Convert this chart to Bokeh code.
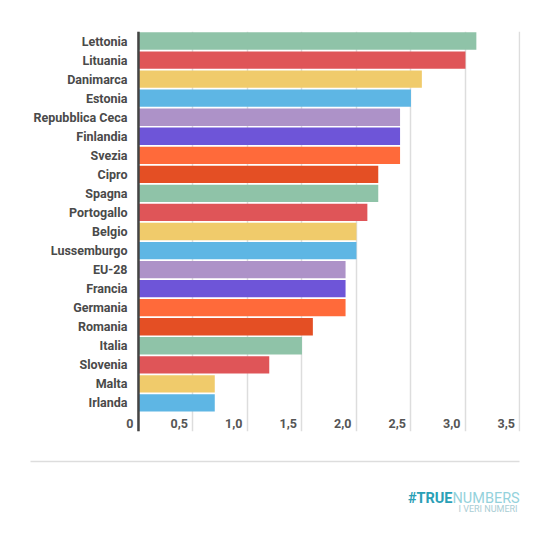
from bokeh.plotting import figure
from bokeh.models import FactorRange, Range1d, ColumnDataSource, Span
from bokeh.layouts import column
from bokeh.core.properties import value
from bokeh.embed import file_html
from bokeh.resources import INLINE

countries = ["Lettonia", "Lituania", "Danimarca", "Estonia", "Repubblica Ceca",
             "Finlandia", "Svezia", "Cipro", "Spagna", "Portogallo", "Belgio",
             "Lussemburgo", "EU-28", "Francia", "Germania", "Romania", "Italia",
             "Slovenia", "Malta", "Irlanda"]
values = [3.1, 3.0, 2.6, 2.5, 2.4, 2.4, 2.4, 2.2, 2.2, 2.1, 2.0, 2.0,
          1.9, 1.9, 1.9, 1.6, 1.5, 1.2, 0.7, 0.7]
palette = ["#8fc3a8", "#df5558", "#f0cb6b", "#5eb6e4",
           "#ad92c8", "#6e55d8", "#ff6a3a", "#e44f24"]
x_ticks = [0, 0.5, 1.0, 1.5, 2.0, 2.5, 3.0, 3.5]
x_tick_labels = ["0", "0,5", "1,0", "1,5", "2,0", "2,5", "3,0", "3,5"]

LABEL_ROW = " "
colors = [palette[i % len(palette)] for i in range(len(countries))]
factors = [LABEL_ROW] + list(reversed(countries))

src = ColumnDataSource(dict(country=countries, val=values, color=colors))

p = figure(width=542, height=441, y_range=FactorRange(factors=factors, range_padding=0),
           x_range=Range1d(-0.119, 3.505), x_axis_location=None,
           output_backend="svg", toolbar_location=None,
           min_border_left=125, min_border_right=22, min_border_top=31, min_border_bottom=10)
p.frame_align = False
p.outline_line_color = None
p.ygrid.grid_line_color = None
p.xgrid.ticker = x_ticks
p.xgrid.grid_line_color = "#dddddd"
p.xgrid.grid_line_width = 1.5

p.hbar(y="country", right="val", left=0, height=0.91, color="color",
       line_color=None, source=src)
p.add_layout(Span(location=0, dimension="height", line_color="#444444", line_width=2.5))

yax = p.yaxis[0]
yax.axis_line_color = None
yax.major_tick_line_color = None
yax.minor_tick_line_color = None
yax.major_tick_in = 0
yax.major_tick_out = 0
yax.major_label_standoff = -2
yax.major_label_text_font = "Roboto"
yax.major_label_text_font_style = "bold"
yax.major_label_text_font_size = "12.5px"
yax.major_label_text_color = "#4a4a4a"

tick_src = ColumnDataSource(dict(x=x_ticks, y=[LABEL_ROW] * len(x_ticks), t=x_tick_labels))
p.text(x="x", y="y", text="t", source=tick_src, text_align="right",
       text_baseline="middle", x_offset=-5, y_offset=1.5,
       text_font=value("Roboto"), text_font_style="bold",
       text_font_size="12.5px", text_color="#555555")

# footer: separator line and logo
f = figure(width=542, height=84, x_range=Range1d(0, 542), y_range=Range1d(0, 84),
           x_axis_location=None, y_axis_location=None,
           output_backend="svg", toolbar_location=None, min_border=0)
f.frame_align = False
f.outline_line_color = None
f.xgrid.visible = False
f.ygrid.visible = False
f.segment(x0=[30], y0=[64], x1=[519], y1=[64], line_color="#dddddd", line_width=1.5)
logo_font = value("Roboto")
f.text(x=[452], y=[27], text=["#TRUE"], text_font=logo_font, text_font_size="14.5px",
       text_font_style="bold", text_color="#2aa0b6", text_baseline="alphabetic",
       text_align="right")
f.text(x=[452], y=[27], text=["NUMBERS"], text_font=logo_font, text_font_size="14.5px",
       text_color="#94d2dc", text_baseline="alphabetic")
f.text(x=[517], y=[17], text=["I VERI NUMERI"], text_font=logo_font, text_font_size="9px",
       text_color="#a9cdd4", text_align="right", text_baseline="alphabetic")

layout = column(p, f, spacing=0)
open("out.html", "w").write(file_html(layout, INLINE))
